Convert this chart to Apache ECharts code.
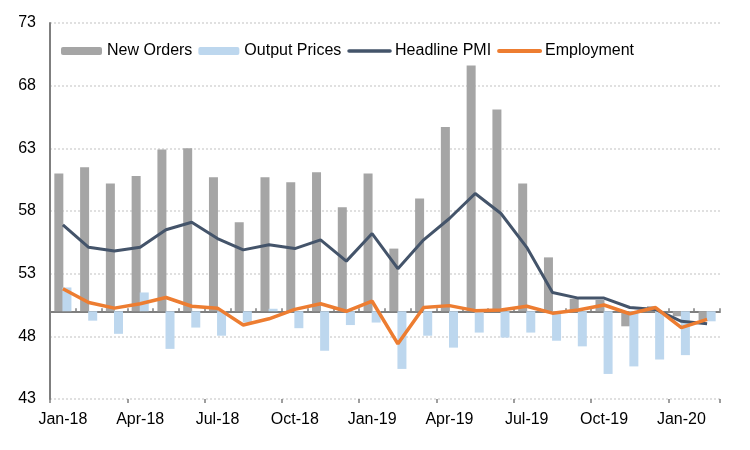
<!DOCTYPE html>
<html>
<head>
<meta charset="utf-8">
<script src="https://cdn.jsdelivr.net/npm/echarts@6/dist/echarts.min.js"></script>
<style>
  html, body { margin: 0; padding: 0; background: #fff; }
  #chart { width: 750px; height: 450px; }
</style>
</head>
<body>
<div id="chart"></div>
<script>
// months, Jan-18 .. Feb-20
var months = ['Jan-18','Feb-18','Mar-18','Apr-18','May-18','Jun-18','Jul-18','Aug-18','Sep-18','Oct-18','Nov-18','Dec-18',
              'Jan-19','Feb-19','Mar-19','Apr-19','May-19','Jun-19','Jul-19','Aug-19','Sep-19','Oct-19','Nov-19','Dec-19',
              'Jan-20','Feb-20'];

var newOrders    = [61.0, 61.5, 60.2, 60.8, 62.9, 63.0, 60.7, 57.1, 60.7, 60.3, 61.1, 58.3,
                    61.0, 55.0, 59.0, 64.7, 69.6, 66.1, 60.2, 54.3, 51.0, 50.9, 48.8, 50.4,
                    49.6, 49.3];
var outputPrices = [51.9, 49.25, 48.2, 51.5, 47.0, 48.7, 48.05, 49.1, 50.2, 48.65, 46.85, 48.9,
                    49.1, 45.4, 48.05, 47.1, 48.3, 47.9, 48.3, 47.65, 47.2, 45.0, 45.6, 46.15,
                    46.5, 49.2];
var headlinePMI  = [56.9, 55.1, 54.8, 55.1, 56.5, 57.1, 55.8, 54.9, 55.3, 55.0, 55.7, 54.0,
                    56.2, 53.4, 55.7, 57.4, 59.4, 57.8, 55.1, 51.5, 51.05, 51.05, 50.3, 50.15,
                    49.2, 49.0];
var employment   = [51.8, 50.7, 50.25, 50.6, 51.1, 50.4, 50.25, 48.9, 49.4, 50.15, 50.6, 50.0,
                    50.8, 47.4, 50.3, 50.45, 50.05, 50.1, 50.4, 49.85, 50.1, 50.5, 49.8, 50.3,
                    48.7, 49.35];

// bars hang from 50, so everything is plotted relative to 50
var BASE = 50;
var yMin = 43, yMax = 73, yStep = 5;
function rel(arr) { return arr.map(function (v) { return +(v - BASE).toFixed(2); }); }

var font = "'Liberation Sans', Arial, sans-serif";
var axisGray = '#7f7f7f';

var myChart = echarts.init(document.getElementById('chart'));
myChart.setOption({
  animation: false,
  textStyle: { fontFamily: font },
  grid: { left: 50, right: 30, top: 23, bottom: 51 },
  legend: {
    left: 56, top: 38,
    itemWidth: 41, itemHeight: 8, itemGap: 6,
    textStyle: { fontSize: 16, color: '#000', fontFamily: font },
    data: [
      'New Orders',
      'Output Prices',
      // line items: no marker, thick round-capped stroke
      { name: 'Headline PMI', itemStyle: { opacity: 0 }, lineStyle: { width: 3.5, cap: 'round' } },
      { name: 'Employment', itemStyle: { opacity: 0 }, lineStyle: { width: 4, cap: 'round' } }
    ]
  },
  xAxis: [
    { // labels along the bottom
      type: 'category', data: months, position: 'bottom',
      axisLine: { show: false, onZero: false },
      axisTick: { show: false },
      axisLabel: { interval: 2, margin: 13, fontSize: 16, color: '#000', fontFamily: font }
    },
    { // axis line at 50 with small inner ticks
      type: 'category', data: months, position: 'bottom',
      axisLine: { show: true, onZero: true, lineStyle: { color: axisGray, width: 2 } },
      axisTick: { show: true, interval: 0, inside: true, length: 3, lineStyle: { color: axisGray, width: 1.5 } },
      axisLabel: { show: false }
    },
    { // major ticks every quarter
      type: 'category', data: months, position: 'bottom',
      axisLine: { show: false, onZero: true },
      axisTick: { show: true, interval: 2, inside: false, length: 4, lineStyle: { color: axisGray, width: 1.5 } },
      axisLabel: { show: false }
    }
  ],
  yAxis: {
    type: 'value',
    min: yMin - BASE, max: yMax - BASE, interval: yStep,
    axisLine: { show: true, lineStyle: { color: axisGray, width: 2 } },
    axisTick: { show: false },
    axisLabel: {
      margin: 14, fontSize: 16, color: '#000', fontFamily: font,
      formatter: function (v) { return Math.round(v + BASE); }
    },
    splitLine: { show: true, lineStyle: { color: '#d6d6d6', type: [2, 2], width: 1.5 } }
  },
  series: [
    {
      name: 'New Orders', type: 'bar', barWidth: 9, barGap: '-10%',
      itemStyle: { color: '#a5a5a5' },
      data: rel(newOrders)
    },
    {
      name: 'Output Prices', type: 'bar', barWidth: 9,
      itemStyle: { color: '#bdd7ee' },
      data: rel(outputPrices)
    },
    {
      name: 'Headline PMI', type: 'line', symbol: 'none', z: 5,
      lineStyle: { color: '#44546a', width: 3 },
      itemStyle: { color: '#44546a' },
      data: rel(headlinePMI)
    },
    {
      name: 'Employment', type: 'line', symbol: 'none', z: 6,
      lineStyle: { color: '#ed7d31', width: 3.5 },
      itemStyle: { color: '#ed7d31' },
      data: rel(employment)
    }
  ]
});
</script>
</body>
</html>
